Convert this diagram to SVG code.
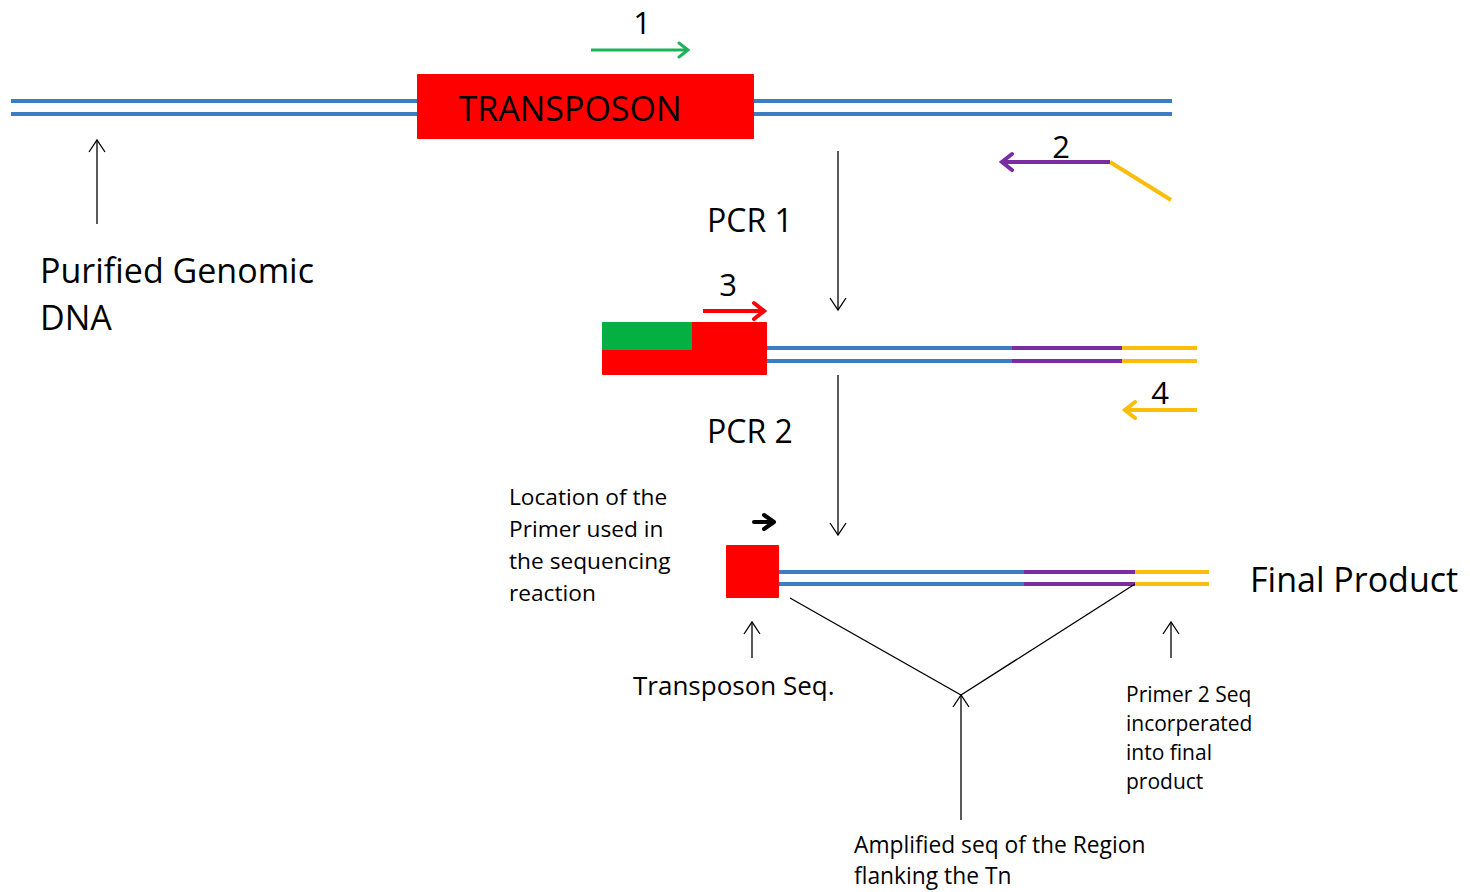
<svg xmlns="http://www.w3.org/2000/svg" width="1470" height="892" viewBox="0 0 1470 892">
<style>
.t{font-family:"Open Sans","Noto Sans",sans-serif;fill:#000}
.dna{stroke-width:4;fill:none}
.b{stroke:#3d7cc0}.p{stroke:#7a2da0}.y{stroke:#fbbd0c}
.k{stroke:#000;stroke-width:1.3;fill:none}
</style>
<defs>
<marker id="ak" viewBox="0 0 20 20" refX="18" refY="10" markerWidth="20" markerHeight="20" markerUnits="userSpaceOnUse" orient="auto"><path d="M6,2 L18,10 L6,18" fill="none" stroke="#000" stroke-width="1.3"/></marker>
<marker id="ag" viewBox="0 0 20 20" refX="17" refY="10" markerWidth="20" markerHeight="20" markerUnits="userSpaceOnUse" orient="auto"><path d="M8,3 L17,10 L8,17" fill="none" stroke="#1fb15a" stroke-width="3" stroke-linecap="round"/></marker>
<marker id="ap" viewBox="0 0 24 24" refX="21" refY="12" markerWidth="24" markerHeight="24" markerUnits="userSpaceOnUse" orient="auto"><path d="M11,4 L21,12 L11,20" fill="none" stroke="#7a2da0" stroke-width="4" stroke-linecap="round"/></marker>
<marker id="ar" viewBox="0 0 24 24" refX="21" refY="12" markerWidth="24" markerHeight="24" markerUnits="userSpaceOnUse" orient="auto"><path d="M11,4 L21,12 L11,20" fill="none" stroke="#ff0000" stroke-width="4" stroke-linecap="round"/></marker>
<marker id="ay" viewBox="0 0 24 24" refX="21" refY="12" markerWidth="24" markerHeight="24" markerUnits="userSpaceOnUse" orient="auto"><path d="M11,4 L21,12 L11,20" fill="none" stroke="#fbbd0c" stroke-width="4" stroke-linecap="round"/></marker>
</defs>
<rect width="1470" height="892" fill="#fff"/>

<g id="genomic-dna">
<line class="dna b" x1="11" y1="101" x2="1172" y2="101"/>
<line class="dna b" x1="11" y1="114" x2="1172" y2="114"/>
</g>
<g id="transposon">
<rect x="417" y="74" width="337" height="65" fill="#ff0000" rx="1"/>
<text class="t" x="570" y="121" font-size="34" text-anchor="middle">TRANSPOSON</text>
</g>
<g id="primer1">
<line x1="591" y1="50" x2="688" y2="50" stroke="#1fb15a" stroke-width="3" marker-end="url(#ag)"/>
<text class="t" x="642" y="34" font-size="31" text-anchor="middle">1</text>
</g>
<g id="primer2">
<line x1="1110" y1="162" x2="1171" y2="200" stroke="#fbbd0c" stroke-width="4"/>
<line x1="1110" y1="162" x2="1002" y2="162" stroke="#7a2da0" stroke-width="4" marker-end="url(#ap)"/>
<text class="t" x="1061" y="158" font-size="31" text-anchor="middle">2</text>
</g>
<g id="label-genomic">
<text class="t" x="40" y="283" font-size="34">Purified Genomic</text>
<text class="t" x="40" y="330" font-size="34">DNA</text>
</g>
<g id="pcr1-label"><text class="t" x="707" y="232" font-size="32">PCR 1</text></g>

<g id="pcr1-product">
<rect x="602" y="322" width="165" height="53" fill="#ff0000" rx="1"/>
<rect x="602" y="322" width="90" height="28" fill="#04b041"/>
<line class="dna b" x1="767" y1="348" x2="1012" y2="348"/>
<line class="dna b" x1="767" y1="361" x2="1012" y2="361"/>
<line class="dna p" x1="1012" y1="348" x2="1122" y2="348"/>
<line class="dna p" x1="1012" y1="361" x2="1122" y2="361"/>
<line class="dna y" x1="1122" y1="348" x2="1197" y2="348"/>
<line class="dna y" x1="1122" y1="361" x2="1197" y2="361"/>
</g>
<g id="primer3">
<line x1="703" y1="311" x2="764" y2="311" stroke="#ff0000" stroke-width="4" marker-end="url(#ar)"/>
<text class="t" x="728" y="296" font-size="31" text-anchor="middle">3</text>
</g>
<g id="primer4">
<line x1="1197" y1="410" x2="1125" y2="410" stroke="#fbbd0c" stroke-width="4" marker-end="url(#ay)"/>
<text class="t" x="1160" y="404" font-size="31" text-anchor="middle">4</text>
</g>
<g id="pcr2-label"><text class="t" x="707" y="443" font-size="32">PCR 2</text></g>

<g id="final-product">
<rect x="726" y="545" width="53" height="53" fill="#ff0000" rx="1"/>
<line class="dna b" x1="779" y1="572" x2="1024" y2="572"/>
<line class="dna b" x1="779" y1="584" x2="1024" y2="584"/>
<line class="dna p" x1="1024" y1="572" x2="1135" y2="572"/>
<line class="dna p" x1="1024" y1="584" x2="1135" y2="584"/>
<line class="dna y" x1="1135" y1="572" x2="1209" y2="572"/>
<line class="dna y" x1="1135" y1="584" x2="1209" y2="584"/>
<text class="t" x="1250" y="592" font-size="34">Final Product</text>
</g>
<g id="seq-primer">
<path d="M764,515 L774,522 L764,529" fill="none" stroke="#000" stroke-width="4" stroke-linejoin="round" stroke-linecap="round"/>
<line x1="754" y1="522" x2="772" y2="522" stroke="#000" stroke-width="4" stroke-linecap="round"/>
<text class="t" font-size="22.7"><tspan x="509" y="505">Location of the</tspan><tspan x="509" y="537">Primer used in</tspan><tspan x="509" y="569">the sequencing</tspan><tspan x="509" y="601">reaction</tspan></text>
</g>
<g id="label-transposon-seq"><text class="t" x="633" y="695" font-size="26">Transposon Seq.</text></g>
<g id="label-primer2-seq"><text class="t" font-size="21"><tspan x="1126" y="702">Primer 2 Seq</tspan><tspan x="1126" y="731">incorperated</tspan><tspan x="1126" y="760">into final</tspan><tspan x="1126" y="789">product</tspan></text></g>
<g id="label-amplified"><text class="t" font-size="22.8"><tspan x="854" y="853">Amplified seq of the Region</tspan><tspan x="854" y="884">flanking the Tn</tspan></text></g>

<g id="connectors">
<line class="k" x1="97" y1="224" x2="97" y2="140" marker-end="url(#ak)"/>
<line class="k" x1="838" y1="151" x2="838" y2="310" marker-end="url(#ak)"/>
<line class="k" x1="838" y1="375" x2="838" y2="535" marker-end="url(#ak)"/>
<line class="k" x1="752" y1="658" x2="752" y2="622" marker-end="url(#ak)"/>
<line class="k" x1="1171" y1="658" x2="1171" y2="622" marker-end="url(#ak)"/>
<polyline class="k" points="790,598 961,695 1135,584" stroke="#333"/>
<line class="k" x1="961" y1="820" x2="961" y2="695" marker-end="url(#ak)"/>
</g>
</svg>
